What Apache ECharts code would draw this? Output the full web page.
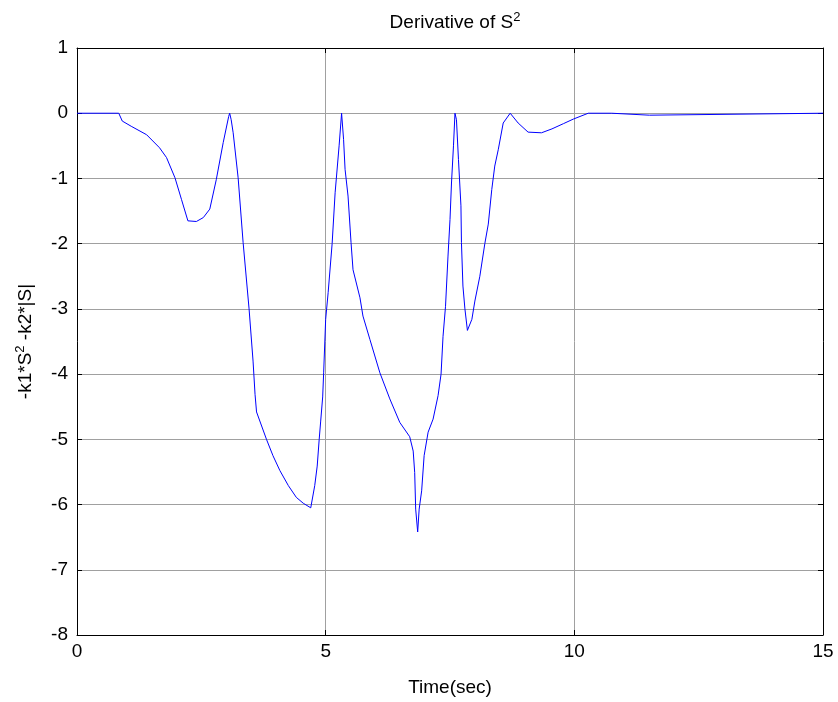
<!DOCTYPE html>
<html>
<head>
<meta charset="utf-8">
<script src="https://cdn.jsdelivr.net/npm/echarts@6/dist/echarts.min.js"></script>
<style>
html,body{margin:0;padding:0;background:#fff;}
#chart{width:838px;height:702px;}
</style>
</head>
<body>
<div id="chart"></div>
<script>
// time (sec)
const timeSec = [0,0.84,0.91,1.09,1.40,1.66,1.80,1.97,2.10,2.23,2.40,2.54,2.67,2.80,2.94,3.05,3.07,3.10,3.14,3.24,3.34,3.46,3.54,3.58,3.61,3.81,3.94,4.08,4.25,4.41,4.55,4.70,4.74,4.78,4.83,4.87,4.90,4.94,4.96,5.00,5.05,5.13,5.19,5.27,5.32,5.36,5.39,5.45,5.51,5.55,5.69,5.75,5.89,6.09,6.29,6.49,6.69,6.71,6.76,6.79,6.81,6.85,6.88,6.93,6.98,7.06,7.16,7.26,7.32,7.36,7.41,7.46,7.50,7.53,7.57,7.60,7.63,7.67,7.72,7.73,7.76,7.80,7.85,7.94,8.00,8.10,8.20,8.27,8.34,8.40,8.47,8.57,8.71,8.87,9.07,9.34,9.55,9.78,9.98,10.28,10.75,10.77,11.51,11.53,15];
// derivative values
const derivValues = [0,0,-0.12,-0.2,-0.33,-0.53,-0.68,-0.99,-1.32,-1.65,-1.66,-1.60,-1.47,-1.02,-0.45,-0.05,0,-0.1,-0.30,-0.99,-1.98,-3.0,-3.8,-4.31,-4.58,-5.0,-5.25,-5.48,-5.71,-5.89,-5.98,-6.05,-6.03,-5.71,-5.41,-5.0,-4.72,-4.35,-3.97,-3.16,-2.75,-2.0,-1.22,-0.5,0,-0.4,-0.86,-1.27,-1.98,-2.40,-2.83,-3.11,-3.47,-3.98,-4.38,-4.74,-4.96,-4.95,-5.18,-5.51,-6.07,-6.42,-6.07,-5.79,-5.25,-4.89,-4.69,-4.33,-4.0,-3.42,-2.96,-2.19,-1.63,-1.07,-0.5,0,-0.1,-0.71,-1.42,-1.98,-2.65,-3.0,-3.33,-3.16,-2.88,-2.5,-2.0,-1.7,-1.17,-0.81,-0.56,-0.15,0,-0.15,-0.29,-0.30,-0.24,-0.16,-0.09,0,0,-0.03,-0.03,0,0];
const xTicks = [0,5,10,15];
const yTicks = [1,0,-1,-2,-3,-4,-5,-6,-7,-8];

const FONT = 'Liberation Sans';
const FS = 19;
const seriesData = timeSec.map((t,i)=>[t,derivValues[i]]);
const xMin = xTicks[0], xMax = xTicks[xTicks.length-1];
const yMin = yTicks[yTicks.length-1], yMax = yTicks[0];

const chart = echarts.init(document.getElementById('chart'), null, {renderer:'canvas'});
const supRich = {
  sup: {fontFamily: FONT, fontSize: 13, color:'#000', verticalAlign:'top', padding:[0,0,10,0]}
};
const axisCommon = {
  axisLine: {show:true, onZero:false, lineStyle:{color:'#000', width:1}},
  axisTick: {show:true, inside:true, length:5, lineStyle:{color:'#000'}},
};
chart.setOption({
  animation: false,
  backgroundColor: '#fff',
  title: {
    text: 'Derivative of S{sup|2}',
    left: 450, top: 6, textAlign: 'center',
    textStyle: {fontFamily: FONT, fontSize: FS, fontWeight:'normal', color:'#000', rich: supRich}
  },
  grid: {left: 77, right: 15, top: 48, bottom: 67, show: false},
  xAxis: [
    Object.assign({
      type:'value', min:xMin, max:xMax, interval:5, position:'bottom',
      name:'Time(sec)', nameLocation:'middle', nameGap: 43,
      nameTextStyle:{fontFamily:FONT, fontSize:FS, color:'#000'},
      axisLabel:{fontFamily:FONT, fontSize:FS, color:'#000', margin:7},
      splitLine:{show:true, lineStyle:{color:'#a0a0a0', width:1}}
    }, axisCommon),
    Object.assign({
      type:'value', min:xMin, max:xMax, interval:5, position:'top',
      axisLabel:{show:false}, splitLine:{show:false}
    }, axisCommon)
  ],
  yAxis: [
    Object.assign({
      type:'value', min:yMin, max:yMax, interval:1, position:'left',
      name:'-k1*S{sup|2} -k2*|S|', nameLocation:'middle', nameGap: 40, nameRotate: 90,
      nameTextStyle:{fontFamily:FONT, fontSize:FS, color:'#000', rich: supRich},
      axisLabel:{fontFamily:FONT, fontSize:FS, color:'#000', margin:9},
      splitLine:{show:true, lineStyle:{color:'#a0a0a0', width:1}}
    }, axisCommon),
    Object.assign({
      type:'value', min:yMin, max:yMax, interval:1, position:'right',
      axisLabel:{show:false}, splitLine:{show:false}
    }, axisCommon)
  ],
  series: [{
    type:'line', data: seriesData, xAxisIndex:0, yAxisIndex:0,
    showSymbol:false, symbol:'none',
    lineStyle:{color:'#0000ff', width:1}, itemStyle:{color:'#0000ff'}
  }]
});
</script>
</body>
</html>
